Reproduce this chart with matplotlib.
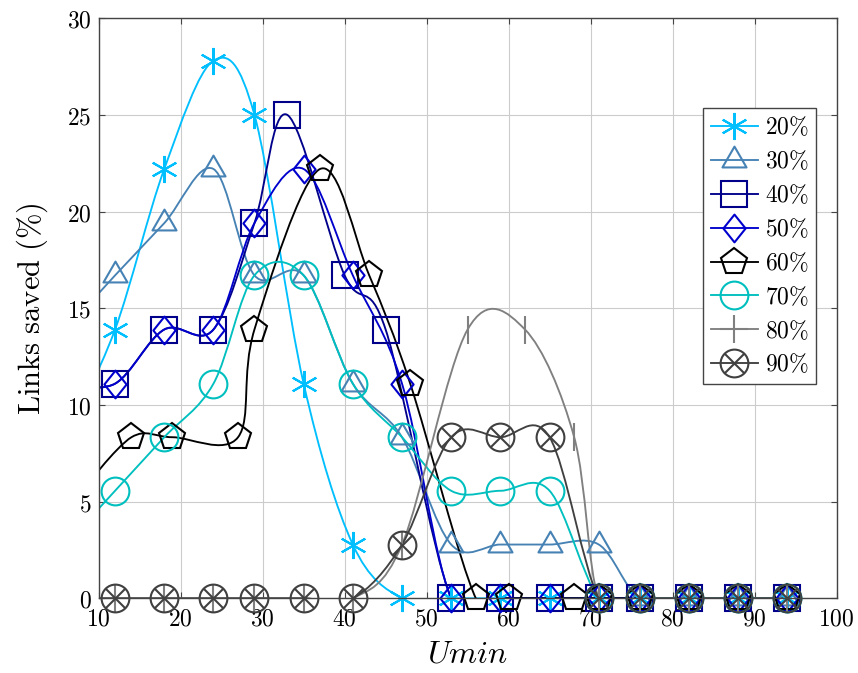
import numpy as np
import matplotlib
matplotlib.use("Agg")
import matplotlib.pyplot as plt
from matplotlib.path import Path
from matplotlib.patches import PathPatch
from matplotlib.lines import Line2D

plt.rcParams["mathtext.fontset"] = "cm"

# Umin values per series (first point sits left of the visible range)
x_std = [6, 12, 18, 24, 29, 35, 41, 47, 53, 59, 65, 71, 76, 82, 88, 94]
x_40 = [6, 12, 18, 24, 29, 33, 40, 45, 53, 59, 65, 71, 76, 82, 88, 94]
x_60 = [8, 14, 19, 27, 29, 37, 43, 48, 56, 60, 68, 71, 76, 82, 88, 94]
x_80 = [6, 12, 18, 24, 29, 35, 41, 47, 55, 62, 68, 71, 76, 82, 88, 94]

saved_20 = [8.33, 13.9, 22.2, 27.8, 25.0, 11.1, 2.78, 0, 0, 0, 0, 0, 0, 0, 0, 0]
saved_30 = [13.9, 16.7, 19.4, 22.2, 16.7, 16.7, 11.1, 8.33, 2.78, 2.78, 2.78, 2.78, 0, 0, 0, 0]
saved_40 = [11.1, 11.1, 13.9, 13.9, 19.4, 25.0, 16.7, 13.9, 0, 0, 0, 0, 0, 0, 0, 0]
saved_50 = [11.1, 11.1, 13.9, 13.9, 19.4, 22.2, 16.7, 11.1, 0, 0, 0, 0, 0, 0, 0, 0]
saved_60 = [5.56, 8.33, 8.33, 8.33, 13.9, 22.2, 16.7, 11.1, 0, 0, 0, 0, 0, 0, 0, 0]
saved_70 = [2.78, 5.56, 8.33, 11.1, 16.7, 16.7, 11.1, 8.33, 5.56, 5.56, 5.56, 0, 0, 0, 0, 0]
saved_80 = [0, 0, 0, 0, 0, 0, 0, 2.78, 13.9, 13.9, 8.33, 0, 0, 0, 0, 0]
saved_90 = [0, 0, 0, 0, 0, 0, 0, 2.78, 8.33, 8.33, 8.33, 0, 0, 0, 0, 0]

labels = ["20%", "30%", "40%", "50%", "60%", "70%", "80%", "90%"]

# marker shapes
diamond = Path([(0, 1), (0.8, 0), (0, -1), (-0.8, 0), (0, 1)],
               [Path.MOVETO, Path.LINETO, Path.LINETO, Path.LINETO, Path.CLOSEPOLY])
triangle = Path([(0, 1), (-0.866, -0.5), (0.866, -0.5), (0, 1)],
                [Path.MOVETO, Path.LINETO, Path.LINETO, Path.CLOSEPOLY])
d = 0.7071
otimes = Path.make_compound_path(
    Path.unit_circle(),
    Path([(-d, -d), (d, d)], [Path.MOVETO, Path.LINETO]),
    Path([(-d, d), (d, -d)], [Path.MOVETO, Path.LINETO]),
)

series = [
    (x_std, saved_20, "#00BFFF", (6, 2, 0), (6, 2, 0), 19.5),
    (x_std, saved_30, "#4682B4", triangle, triangle, 20),
    (x_40, saved_40, "#00008B", "s", "s", 19),
    (x_std, saved_50, "#0000CD", diamond, diamond, 20),
    (x_60, saved_60, "black", "p", "p", 19.5),
    (x_std, saved_70, "#00BFBF", "o", "o", 20),
    (x_80, saved_80, "#808080", "|", "+", 19.5),
    (x_std, saved_90, "#404040", otimes, otimes, 20),
]


def smooth_path(xs, ys, k=1 / 6):
    # cubic spline through the points, like pgfplots "smooth"
    pts = np.column_stack([xs, ys]).astype(float)
    n = len(pts)
    verts = [pts[0]]
    codes = [Path.MOVETO]
    for i in range(n - 1):
        p0, p1 = pts[i], pts[i + 1]
        c1 = p0 if i == 0 else p0 + k * (pts[i + 1] - pts[i - 1])
        c2 = p1 if i == n - 2 else p1 - k * (pts[i + 2] - pts[i])
        verts += [c1, c2, p1]
        codes += [Path.CURVE4] * 3
    return Path(verts, codes)


fig = plt.figure(figsize=(8.58, 6.73), dpi=100)
ax = fig.add_axes([0.115, 0.111, 0.86, 0.862])

handles = []
for (xs, ys, color, mk, leg_mk, ms), lab in zip(series, labels):
    ax.add_patch(PathPatch(smooth_path(xs, ys), fill=False, edgecolor=color, lw=1.35))
    xs_a = np.array(xs)
    ys_a = np.array(ys)
    keep = xs_a >= 10
    ax.plot(xs_a[keep], ys_a[keep], linestyle="none", marker=mk, ms=ms,
            mfc="none", mec=color, mew=1.5, clip_on=False)
    handles.append(Line2D([], [], color=color, lw=1.35, marker=leg_mk, ms=ms,
                          mfc="none", mec=color, mew=1.5))

ax.set_xlim(10, 100)
ax.set_ylim(0, 30)
ax.set_xticks(range(10, 101, 10))
ax.set_xticklabels([f"${v}$" for v in range(10, 101, 10)])
ax.set_yticks(range(0, 31, 5))
ax.set_yticklabels([f"${v}$" for v in range(0, 31, 5)])
ax.tick_params(labelsize=17, direction="in", length=4, top=True, right=True,
               color="#444444")
ax.tick_params(axis="x", pad=6)
ax.tick_params(axis="y", pad=5)
ax.grid(True, color="#CCCCCC", lw=0.8)
ax.set_axisbelow(True)
for sp in ax.spines.values():
    sp.set_color("#444444")
    sp.set_linewidth(1.0)

ax.set_xlabel(r"$Umin$", fontsize=23, labelpad=6)
ax.set_ylabel(r"$\mathrm{Links\ saved\ (\%)}$", fontsize=22, labelpad=12)

leg = ax.legend(handles, [f"${l[:-1]}\\%$" for l in labels], loc="upper right",
                bbox_to_anchor=(0.972, 0.845), borderaxespad=0, fontsize=17,
                handlelength=2.0, handletextpad=0.3, labelspacing=0.42,
                borderpad=0.3, fancybox=False, framealpha=1, edgecolor="#444444")
leg.get_frame().set_linewidth(1.0)

fig.savefig("out.png", dpi=100)
